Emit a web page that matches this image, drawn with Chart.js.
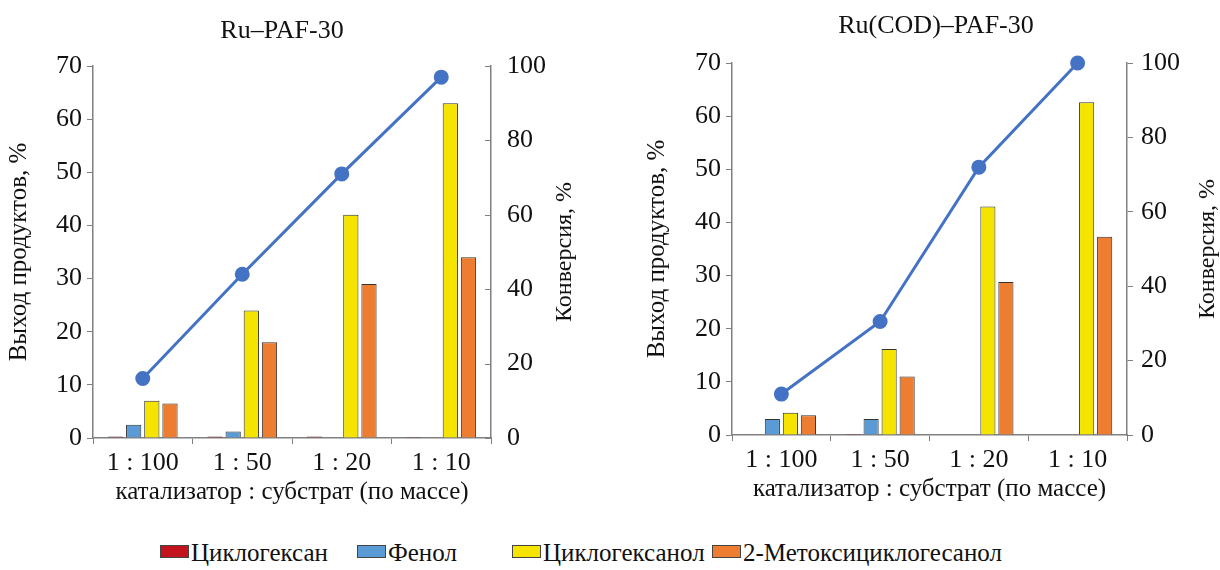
<!DOCTYPE html>
<html>
<head>
<meta charset="utf-8">
<script src="https://cdn.jsdelivr.net/npm/chart.js@4.4.1/dist/chart.umd.min.js"></script>
<style>
  html, body { margin: 0; padding: 0; background: #fff; }
  #wrap { position: relative; width: 1220px; height: 570px; overflow: hidden; font-family: 'Liberation Serif', 'Times New Roman', serif; color: #111; }
  canvas { position: absolute; }
  #c1 { left: 0; top: 0; }
  #c2 { left: 610px; top: -3px; }
  .ttl { position: absolute; font-size: 26px; line-height: 30px; white-space: nowrap; transform: translateX(-50%); }
  .lg { position: absolute; top: 538px; font-size: 25px; line-height: 30px; white-space: nowrap; }
  .lg i { display: inline-block; width: 27px; height: 11px; border: 1px solid #444; margin-right: 2px; vertical-align: 3px; }
</style>
</head>
<body>
<div id="wrap">
  <canvas id="c1" width="610" height="520"></canvas>
  <canvas id="c2" width="610" height="520"></canvas>
  <div class="ttl" style="left:282px; top:15px;">Ru–PAF-30</div>
  <div class="ttl" style="left:936px; top:10px;">Ru(COD)–PAF-30</div>
  <div id="legend"></div>
</div>
<script>
// categories (catalyst : substrate ratio)
const ratioLabels = ['1 : 100', '1 : 50', '1 : 20', '1 : 10'];
const seriesNames = ['Циклогексан', 'Фенол', 'Циклогексанол', '2-Метоксициклогесанол'];
const seriesColors = ['#C3141E', '#5B9BD5', '#F5E400', '#ED7D31'];

// Ru–PAF-30, product yield, %
const ruCyclohexane = [0.3, 0.3, 0.3, 0.2];
const ruPhenol = [2.5, 1.2, 0, 0];
const ruCyclohexanol = [7, 24, 42, 63];
const ruMethoxy = [6.5, 18, 29, 34];
// Ru–PAF-30, conversion, %
const ruConversion = [16, 44, 71, 97];

// Ru(COD)–PAF-30, product yield, %
const codCyclohexane = [0, 0.2, 0, 0];
const codPhenol = [3, 3, 0, 0];
const codCyclohexanol = [4.2, 16.2, 43, 62.6];
const codMethoxy = [3.7, 11, 28.8, 37.3];
// Ru(COD)–PAF-30, conversion, %
const codConversion = [11, 30.5, 72, 100];

// axis ranges
const yieldMax = 70, yieldStep = 10;
const convMax = 100, convStep = 20;

const FONT = "'Liberation Serif', 'Times New Roman', serif";
const AXIS = '#808080';
const LINE = '#4472C4';

// short tick marks pointing into the plot for a right axis,
// and the right axis title read bottom to top
const rightAxisExtras = {
  id: 'rightAxisExtras',
  afterDraw(chart, args, opts) {
    const s = chart.scales.y1;
    const { ctx } = chart;
    ctx.save();
    if (opts.inner) {
      ctx.strokeStyle = AXIS;
      ctx.lineWidth = 1;
      s.ticks.forEach((t) => {
        const y = Math.round(s.getPixelForValue(t.value)) + 0.5;
        ctx.beginPath();
        ctx.moveTo(s.left, y);
        ctx.lineTo(s.left - 6, y);
        ctx.stroke();
      });
    }
    const area = chart.chartArea;
    ctx.translate(s.right - opts.titleOffset, (area.top + area.bottom) / 2);
    ctx.rotate(-Math.PI / 2);
    ctx.fillStyle = '#111';
    ctx.font = '24px ' + FONT;
    ctx.textAlign = 'center';
    ctx.textBaseline = 'middle';
    ctx.fillText('Конверсия, %', 0, 0);
    ctx.restore();
  },
};

function makeChart(id, bars, conversion, cfg) {
  const datasets = bars.map((vals, i) => ({
    type: 'bar',
    label: seriesNames[i],
    data: vals,
    backgroundColor: seriesColors[i],
    borderColor: '#333',
    borderWidth: 1,
    yAxisID: 'y',
    order: 2,
  }));
  datasets.push({
    type: 'line',
    label: 'Конверсия',
    data: conversion,
    borderColor: LINE,
    backgroundColor: LINE,
    borderWidth: 3,
    pointRadius: 6,
    pointHoverRadius: 6,
    yAxisID: 'y1',
    clip: false,
    order: 1,
  });

  return new Chart(document.getElementById(id), {
    type: 'bar',
    data: { labels: ratioLabels, datasets },
    options: {
      responsive: false,
      animation: false,
      layout: { padding: { top: 66, left: 0, right: 0, bottom: 0 } },
      datasets: { bar: { categoryPercentage: 0.73, barPercentage: 0.84 } },
      plugins: {
        legend: { display: false },
        tooltip: { enabled: false },
        title: { display: false },
        rightAxisExtras: { inner: cfg.innerRight, titleOffset: cfg.rightTitleOffset },
      },
      scales: {
        x: {
          grid: { display: true, drawOnChartArea: false, drawTicks: true, tickLength: 6, color: AXIS },
          border: { display: true, color: AXIS, width: 1.5 },
          ticks: { color: '#111', font: { family: FONT, size: 26 }, padding: 4, maxRotation: 0 },
          title: {
            display: true,
            text: 'катализатор : субстрат (по массе)',
            color: '#111',
            font: { family: FONT, size: 25 },
            padding: { top: 0, bottom: 13 },
          },
          afterFit: (s) => { s.height = 82; },
        },
        y: {
          position: 'left',
          min: 0,
          max: yieldMax,
          grid: { display: true, drawOnChartArea: false, drawTicks: true, tickLength: 6, color: AXIS },
          border: { display: true, color: AXIS, width: 1.5 },
          ticks: { stepSize: yieldStep, color: '#111', font: { family: FONT, size: 26 }, padding: 5 },
          title: {
            display: true,
            text: 'Выход продуктов, %',
            color: '#111',
            font: { family: FONT, size: 25 },
            padding: { top: cfg.leftTitlePad, bottom: 0 },
          },
          afterFit: (s) => { s.width = cfg.leftWidth; },
        },
        y1: {
          position: 'right',
          min: 0,
          max: convMax,
          grid: { display: true, drawOnChartArea: false, drawTicks: !cfg.innerRight, tickLength: 6, color: AXIS },
          border: { display: true, color: AXIS, width: 1.5 },
          ticks: { stepSize: convStep, color: '#111', font: { family: FONT, size: 26 }, padding: cfg.innerRight ? 16 : 8 },
          title: { display: false },
          afterFit: (s) => { s.width = cfg.rightWidth; },
        },
      },
    },
    plugins: [rightAxisExtras],
  });
}

makeChart('c1', [ruCyclohexane, ruPhenol, ruCyclohexanol, ruMethoxy], ruConversion,
  { leftWidth: 93, rightWidth: 119, leftTitlePad: 4, rightTitleOffset: 45, innerRight: true });

makeChart('c2', [codCyclohexane, codPhenol, codCyclohexanol, codMethoxy], codConversion,
  { leftWidth: 122, rightWidth: 93, leftTitlePad: 32, rightTitleOffset: 12, innerRight: false });

// shared legend below both panels
const legendX = [160, 357, 512, 712];
const legend = document.getElementById('legend');
seriesNames.forEach((name, i) => {
  const d = document.createElement('div');
  d.className = 'lg';
  d.style.left = legendX[i] + 'px';
  d.innerHTML = '<i style="background:' + seriesColors[i] + '"></i>' + name;
  legend.appendChild(d);
});
</script>
</body>
</html>
